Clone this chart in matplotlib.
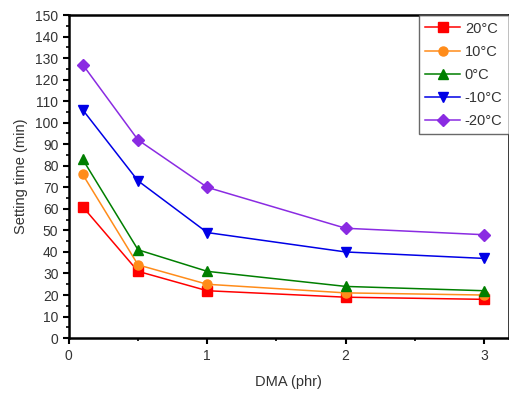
import matplotlib
matplotlib.use('Agg')
import matplotlib.pyplot as plt
from matplotlib.ticker import MultipleLocator

plt.rcParams['font.family'] = ['Liberation Sans', 'DejaVu Sans']

# Setting time vs DMA content at several temperatures
dma = [0.1, 0.5, 1, 2, 3]
t_20 = [61, 31, 22, 19, 18]
t_10 = [76, 34, 25, 21, 20]
t_0 = [83, 41, 31, 24, 22]
t_m10 = [106, 73, 49, 40, 37]
t_m20 = [127, 92, 70, 51, 48]

series = [
    ('20°C', t_20, '#ff0000', 's'),
    ('10°C', t_10, '#ff8c1a', 'o'),
    ('0°C', t_0, '#007f00', '^'),
    ('-10°C', t_m10, '#0000e6', 'v'),
    ('-20°C', t_m20, '#8a2be2', 'D'),
]

fig = plt.figure(figsize=(5.1, 3.95), dpi=100)
ax = fig.add_axes([0.135, 0.144, 0.863, 0.818])

for label, vals, color, marker in series:
    ms = 6.5 if marker != 'D' else 6
    ax.plot(dma, vals, color=color, marker=marker, markersize=ms,
            linewidth=1.1, label=label)

ax.set_xlim(0, 3.18)
ax.set_ylim(0, 150)
ax.xaxis.set_major_locator(MultipleLocator(1))
ax.xaxis.set_minor_locator(MultipleLocator(0.5))
ax.yaxis.set_major_locator(MultipleLocator(10))
ax.yaxis.set_minor_locator(MultipleLocator(5))
ax.tick_params(which='major', direction='out', length=4, width=1.5,
               labelsize=10, labelcolor='#333333')
ax.tick_params(which='minor', direction='out', length=2.5, width=1.2)
for s in ax.spines.values():
    s.set_linewidth(1.8)

ax.set_xlabel('DMA (phr)', fontsize=10.5, color='#333333', labelpad=9)
ax.set_ylabel('Setting time (min)', fontsize=10.5, color='#333333', labelpad=5)

leg = ax.legend(loc='upper right', fontsize=10.5, frameon=True, fancybox=False,
                edgecolor='#444444', handlelength=2.4, handletextpad=0.3,
                borderaxespad=0.0, labelspacing=0.62, borderpad=0.45)
for t in leg.get_texts():
    t.set_color('#333333')
leg.get_frame().set_linewidth(1.0)

plt.savefig('out.png', dpi=100, facecolor='white')
